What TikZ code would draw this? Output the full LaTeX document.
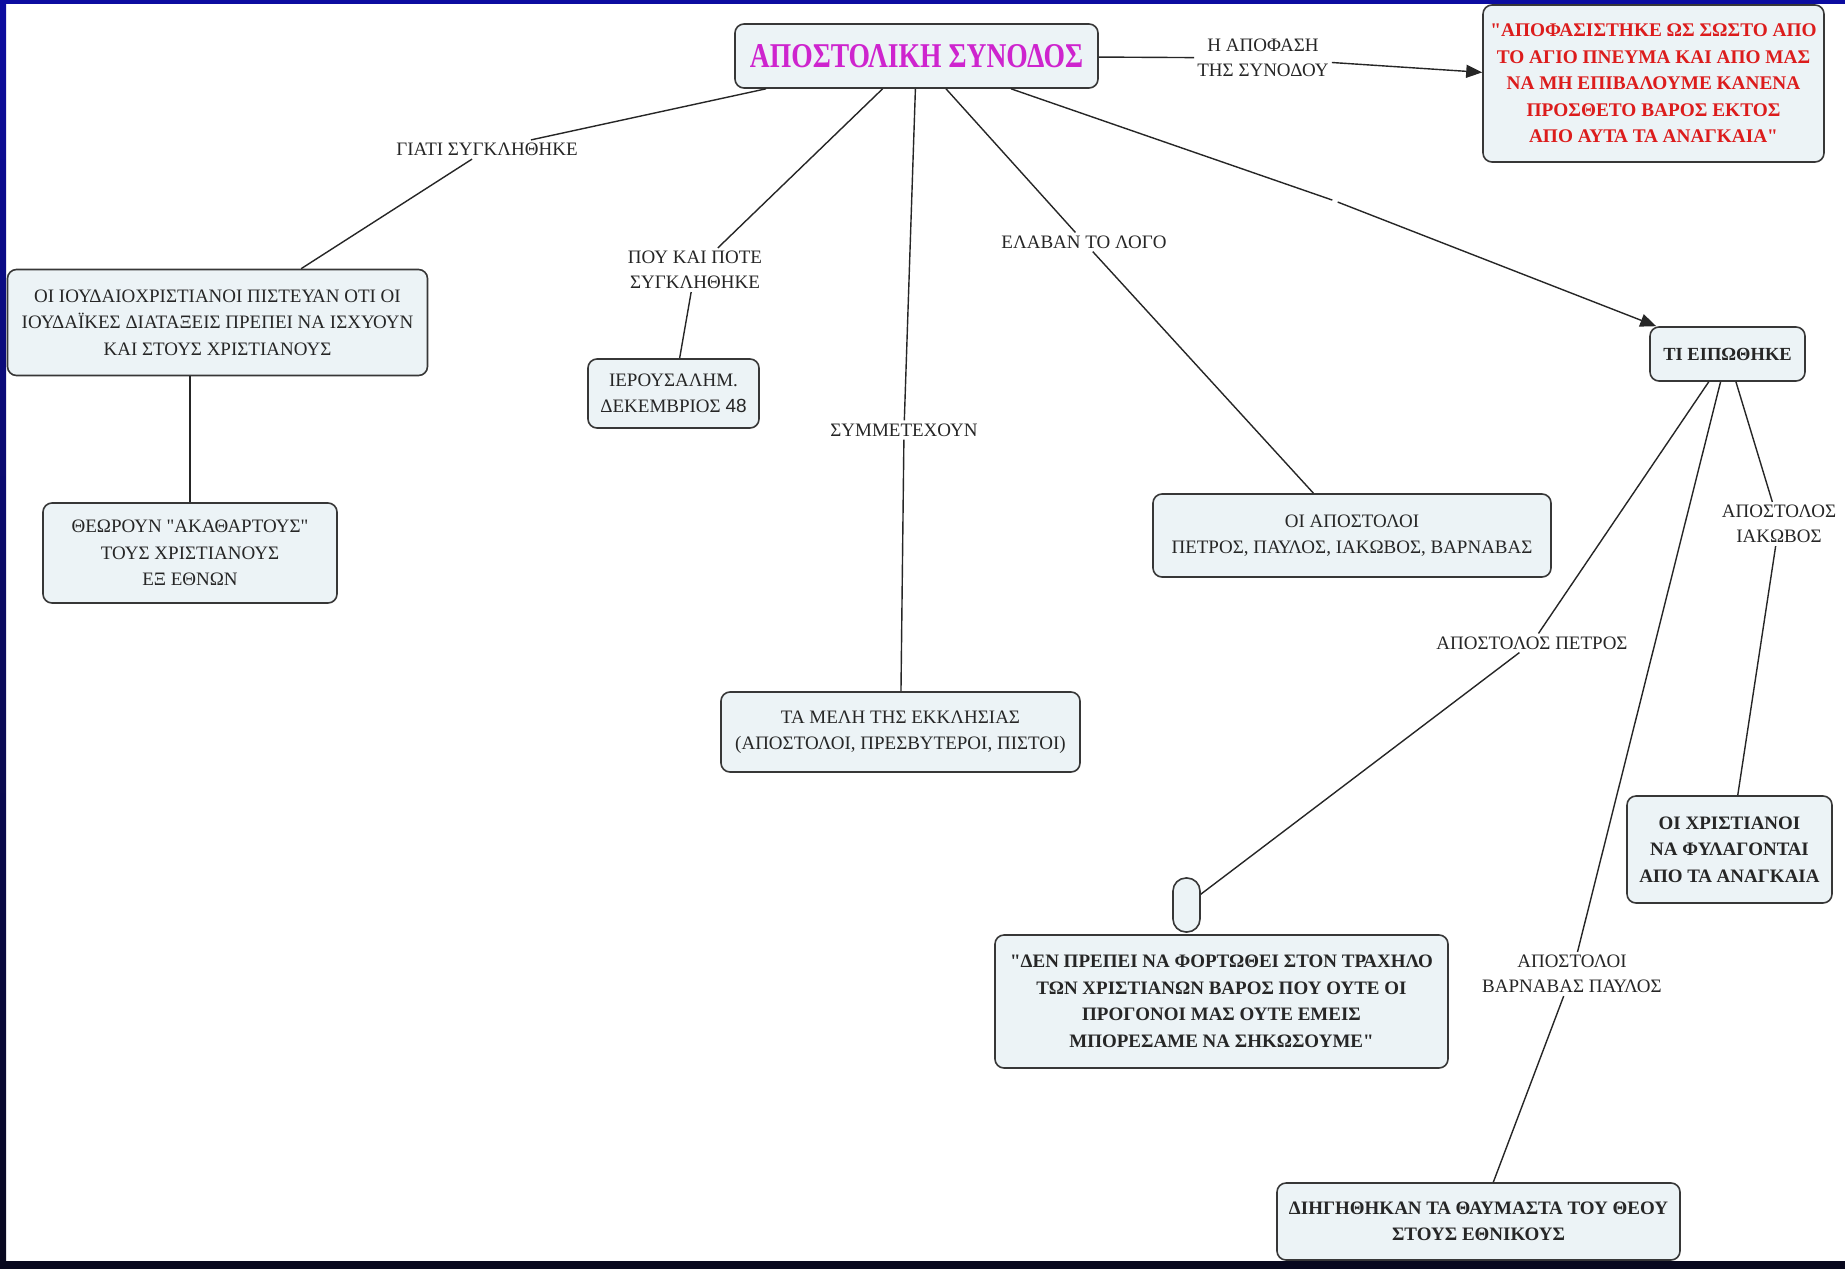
\documentclass[tikz,border=0pt]{standalone}
\usepackage{fontspec}
\setmainfont{Liberation Serif}[Ligatures=TeXOff]
\newfontfamily\sansnum{Liberation Sans}
\usetikzlibrary{arrows.meta}
\definecolor{boxfill}{RGB}{236,243,246}
\definecolor{boxdraw}{RGB}{55,55,55}
\definecolor{titlemag}{RGB}{206,36,206}
\definecolor{redtxt}{RGB}{220,28,28}
\definecolor{txt}{RGB}{38,38,38}
\definecolor{edgeblue}{RGB}{12,12,160}
\definecolor{edgedark}{RGB}{8,8,30}
\begin{document}
\begin{tikzpicture}[x=1pt,y=-1pt,
  concept/.style={draw=boxdraw, line width=1.6pt, fill=boxfill, rounded corners=9pt,
    align=center, inner sep=0pt, text=txt, font=\fontsize{19}{26.5}\selectfont},
  boldconcept/.style={concept, font=\fontsize{19}{26.5}\selectfont\bfseries},
  linklabel/.style={align=center, inner sep=3pt, text=txt, font=\fontsize{19}{25}\selectfont},
  conn/.style={draw=black!85, line width=1.4pt},
  arr/.style={conn, -{Triangle[length=16pt,width=13pt]}},
]
\useasboundingbox (0,0) rectangle (1845,1269);
\fill[white] (0,0) rectangle (1845,1269);
% frame strips
\fill[edgeblue] (0,0) rectangle (1845,4);
\shade[top color=edgeblue, bottom color=edgedark] (0,0) rectangle (6,1269);
\fill[edgedark] (0,1261) rectangle (1845,1269);

% concepts
\node[concept, minimum width=363pt, minimum height=64pt,
  font=\fontsize{27.6}{32}\selectfont\bfseries, text=titlemag] (main) at (916.5,56)
  {\raisebox{-3pt}{\scalebox{1}[1.26]{ΑΠΟΣΤΟΛΙΚΗ ΣΥΝΟΔΟΣ}}};
\node[concept, minimum width=341pt, minimum height=157pt,
  font=\fontsize{19.3}{26.5}\selectfont\bfseries, text=redtxt] (decision) at (1653.5,83.5)
  {"ΑΠΟΦΑΣΙΣΤΗΚΕ ΩΣ ΣΩΣΤΟ ΑΠΟ\\ΤΟ ΑΓΙΟ ΠΝΕΥΜΑ ΚΑΙ ΑΠΟ ΜΑΣ\\ΝΑ ΜΗ ΕΠΙΒΑΛΟΥΜΕ ΚΑΝΕΝΑ\\ΠΡΟΣΘΕΤΟ ΒΑΡΟΣ ΕΚΤΟΣ\\ΑΠΟ ΑΥΤΑ ΤΑ ΑΝΑΓΚΑΙΑ"};
\node[concept, minimum width=420pt, minimum height=106pt] (jewish) at (217.5,322.5)
  {ΟΙ ΙΟΥΔΑΙΟΧΡΙΣΤΙΑΝΟΙ ΠΙΣΤΕΥΑΝ ΟΤΙ ΟΙ\\ΙΟΥΔΑΪΚΕΣ ΔΙΑΤΑΞΕΙΣ ΠΡΕΠΕΙ ΝΑ ΙΣΧΥΟΥΝ\\ΚΑΙ ΣΤΟΥΣ ΧΡΙΣΤΙΑΝΟΥΣ};
\node[concept, minimum width=294pt, minimum height=100pt] (unclean) at (190,553)
  {ΘΕΩΡΟΥΝ "ΑΚΑΘΑΡΤΟΥΣ"\\ΤΟΥΣ ΧΡΙΣΤΙΑΝΟΥΣ\\ΕΞ ΕΘΝΩΝ};
\node[concept, minimum width=171pt, minimum height=69pt] (jerusalem) at (673.5,393.5)
  {ΙΕΡΟΥΣΑΛΗΜ.\\ΔΕΚΕΜΒΡΙΟΣ {\sansnum 48}};
\node[concept, minimum width=359pt, minimum height=80pt] (members) at (900.5,732)
  {ΤΑ ΜΕΛΗ ΤΗΣ ΕΚΚΛΗΣΙΑΣ\\(ΑΠΟΣΤΟΛΟΙ, ΠΡΕΣΒΥΤΕΡΟΙ, ΠΙΣΤΟΙ)};
\node[concept, minimum width=398pt, minimum height=83pt] (apostles) at (1352,535.5)
  {ΟΙ ΑΠΟΣΤΟΛΟΙ\\ΠΕΤΡΟΣ, ΠΑΥΛΟΣ, ΙΑΚΩΒΟΣ, ΒΑΡΝΑΒΑΣ};
\node[boldconcept, minimum width=155pt, minimum height=54pt,
  font=\fontsize{18.5}{26.5}\selectfont\bfseries] (said) at (1727.5,354) {ΤΙ ΕΙΠΩΘΗΚΕ};
\node[boldconcept, minimum width=205pt, minimum height=107pt] (keep) at (1729.5,849.5)
  {ΟΙ ΧΡΙΣΤΙΑΝΟΙ\\ΝΑ ΦΥΛΑΓΟΝΤΑΙ\\ΑΠΟ ΤΑ ΑΝΑΓΚΑΙΑ};
\node[concept, minimum width=27pt, minimum height=54pt, rounded corners=13pt] (pill) at (1186.5,905) {};
\node[boldconcept, minimum width=453pt, minimum height=133pt] (burden) at (1221.5,1001.5)
  {"ΔΕΝ ΠΡΕΠΕΙ ΝΑ ΦΟΡΤΩΘΕΙ ΣΤΟΝ ΤΡΑΧΗΛΟ\\ΤΩΝ ΧΡΙΣΤΙΑΝΩΝ ΒΑΡΟΣ ΠΟΥ ΟΥΤΕ ΟΙ\\ΠΡΟΓΟΝΟΙ ΜΑΣ ΟΥΤΕ ΕΜΕΙΣ\\ΜΠΟΡΕΣΑΜΕ ΝΑ ΣΗΚΩΣΟΥΜΕ"};
\node[boldconcept, minimum width=403pt, minimum height=77pt] (wonders) at (1478.5,1221.5)
  {ΔΙΗΓΗΘΗΚΑΝ ΤΑ ΘΑΥΜΑΣΤΑ ΤΟΥ ΘΕΟΥ\\ΣΤΟΥΣ ΕΘΝΙΚΟΥΣ};

% linking phrases
\node[linklabel] (why) at (487,149.5) {ΓΙΑΤΙ ΣΥΓΚΛΗΘΗΚΕ};
\node[linklabel] (where) at (695,270) {ΠΟΥ ΚΑΙ ΠΟΤΕ\\ΣΥΓΚΛΗΘΗΚΕ};
\node[linklabel] (part) at (904,430) {ΣΥΜΜΕΤΕΧΟΥΝ};
\node[linklabel] (spoke) at (1084,242) {ΕΛΑΒΑΝ ΤΟ ΛΟΓΟ};
\node[linklabel] (dec) at (1263,58) {Η ΑΠΟΦΑΣΗ\\ΤΗΣ ΣΥΝΟΔΟΥ};
\node[inner sep=2.5pt] (hid) at (1335,201) {};
\node[linklabel] (peter) at (1532,643) {ΑΠΟΣΤΟΛΟΣ ΠΕΤΡΟΣ};
\node[linklabel] (barn) at (1572,974) {ΑΠΟΣΤΟΛΟΙ\\ΒΑΡΝΑΒΑΣ ΠΑΥΛΟΣ};
\node[linklabel] (james) at (1779,524) {ΑΠΟΣΤΟΛΟΣ\\ΙΑΚΩΒΟΣ};

% connectors
\draw[conn] (main) -- (why);
\draw[conn] (why) -- (jewish);
\draw[conn] (unclean.north |- jewish.south) -- (unclean.north);
\draw[conn] (main) -- (where);
\draw[conn] (where) -- (jerusalem);
\draw[conn] (main) -- (part);
\draw[conn] (part) -- (members);
\draw[conn] (main) -- (spoke);
\draw[conn] (spoke) -- (apostles);
\draw[conn] (main) -- (dec);
\draw[arr] (dec) -- (decision);
\draw[conn] (main) -- (hid);
\draw[arr] (hid) -- (said);
\draw[conn] (said) -- (peter);
\draw[conn] (peter) -- (pill);
\draw[conn] (said) -- (barn);
\draw[conn] (barn) -- (wonders);
\draw[conn] (said) -- (james);
\draw[conn] (james) -- (keep);
\end{tikzpicture}
\end{document}
